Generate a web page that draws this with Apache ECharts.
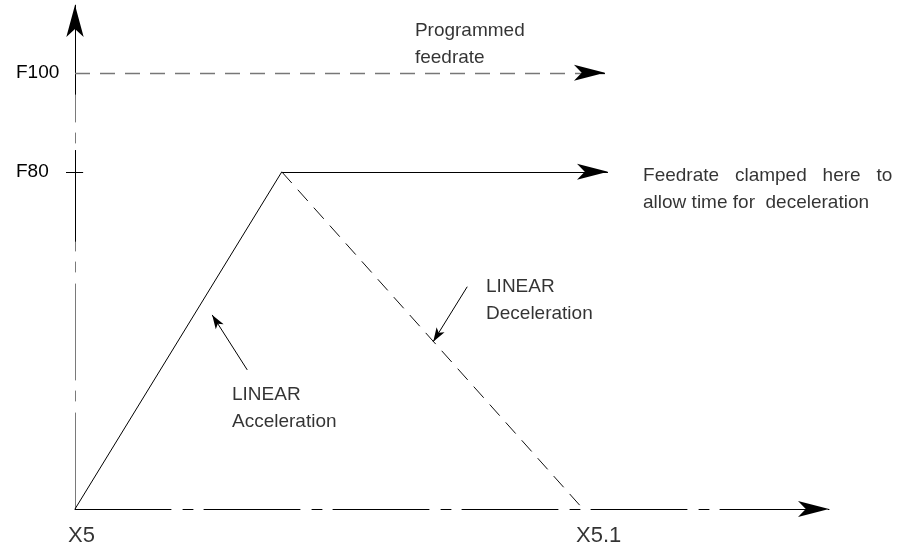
<!DOCTYPE html>
<html>
<head>
<meta charset="utf-8">
<script src="https://cdn.jsdelivr.net/npm/echarts@6/dist/echarts.min.js"></script>
<style>
  html, body { margin: 0; padding: 0; background: #fff; }
  #main { width: 907px; height: 548px; }
</style>
</head>
<body>
<div id="main"></div>
<script>
// axis ticks
var xTicks = [5.0, 5.1];
var yTicks = [80, 100];
var xRange = [5.0, 5.1484];
var yRange = [11.9, 113.7];

// feed profile (x = position, y = feedrate)
var accelLine = [[5.0, 11.9], [5.0407, 80]];
var clampLine = [[5.0407, 80], [5.1049, 80]];
var decelLine = [[5.0407, 80], [5.1, 11.9]];
var programmedLine = [[5.0, 100], [5.1043, 100]];

// pointer arrows of the notes
var accelPointer = [[5.0339, 40.0], [5.0270, 51.1]];
var decelPointer = [[5.0772, 56.8], [5.0705, 45.7]];

// notes
var noteTexts = ['Programmed\nfeedrate', 'Feedrate   clamped   here   to\nallow time for  deceleration',
                 'LINEAR\nDeceleration', 'LINEAR\nAcceleration'];
var notePos = [[5.0669, 111.3], [5.1118, 82.0], [5.0809, 59.6], [5.0309, 37.6]];

// y axis drawn black near the top
var yAxisTop = [[5.0, 95.6], [5.0, 113.7]];
var yAxisMid = [[5.0, 65.9], [5.0, 84.4]];

var chart = echarts.init(document.getElementById('main'));

var font = "'Liberation Sans', Arial, sans-serif";

function seg(pts, style, arrow) {
    var end = { coord: pts[1], symbol: 'none' };
    if (arrow) {
        end.symbol = 'arrow';
        end.symbolSize = arrow;
    }
    return [{ coord: pts[0], symbol: 'none', lineStyle: style }, end];
}

var solid = { color: '#000', width: 1, type: 'solid' };
var big = [12, 31];
var small = [7, 14];

var option = {
    animation: false,
    backgroundColor: '#fff',
    grid: { left: 75, right: 78, top: 5, bottom: 39, containLabel: false, outerBoundsMode: 'none' },
    xAxis: {
        type: 'value',
        min: xRange[0],
        max: xRange[1],
        splitLine: { show: false },
        axisTick: { show: false },
        axisLabel: { show: false },
        axisLine: {
            show: true,
            symbol: ['none', 'arrow'],
            symbolSize: big,
            lineStyle: { color: '#000', width: 1, type: [96, 12, 10, 11] }
        }
    },
    yAxis: {
        type: 'value',
        min: yRange[0],
        max: yRange[1],
        splitLine: { show: false },
        axisLine: {
            show: true,
            lineStyle: { color: '#7a7a7a', width: 1, type: [96, 12, 10, 11] }
        },
        axisTick: { show: true, customValues: [80], length: 9, lineStyle: { color: '#000' } },
        axisLabel: {
            customValues: yTicks,
            margin: 59,
            align: 'left',
            fontFamily: font,
            fontSize: 19,
            color: '#000',
            formatter: function (v) { return 'F' + v; }
        }
    },
    series: [{
        name: 'notes',
        type: 'scatter',
        symbolSize: 0,
        silent: true,
        data: notePos.map(function (p, i) { return { value: p, name: noteTexts[i] }; }),
        label: {
            show: true,
            position: [0, 0],
            align: 'left',
            verticalAlign: 'top',
            fontFamily: font,
            fontSize: 19,
            lineHeight: 27,
            color: '#000',
            formatter: function (p) { return p.name; }
        },
        markLine: {
            silent: true,
            animation: false,
            label: { show: false },
            emphasis: { disabled: true },
            lineStyle: solid,
            data: [
                seg(yAxisTop, solid, [13, 32]),
                seg(yAxisMid, solid),
                seg([[5.0, 80], [5.0016, 80]], solid),
                seg(accelLine, solid),
                seg(clampLine, solid, big),
                seg(decelLine, { color: '#111', width: 1, type: [15, 9] }),
                seg(programmedLine, { color: '#777', width: 1.3, type: [15, 10] }),
                seg([[5.1, 100], programmedLine[1]], solid, big),
                seg(accelPointer, solid, small),
                seg(decelPointer, solid, small)
            ]
        }
    }, {
        name: 'xLabels',
        type: 'scatter',
        symbolSize: 0,
        silent: true,
        data: xTicks.map(function (v) { return [v, yRange[0]]; }),
        label: {
            show: true,
            position: [0, 0],
            offset: [-7, 27],
            align: 'left',
            verticalAlign: 'middle',
            fontFamily: font,
            fontSize: 22,
            color: '#000',
            formatter: function (p) { return 'X' + p.value[0]; }
        }
    }]
};

chart.setOption(option);
</script>
</body>
</html>
